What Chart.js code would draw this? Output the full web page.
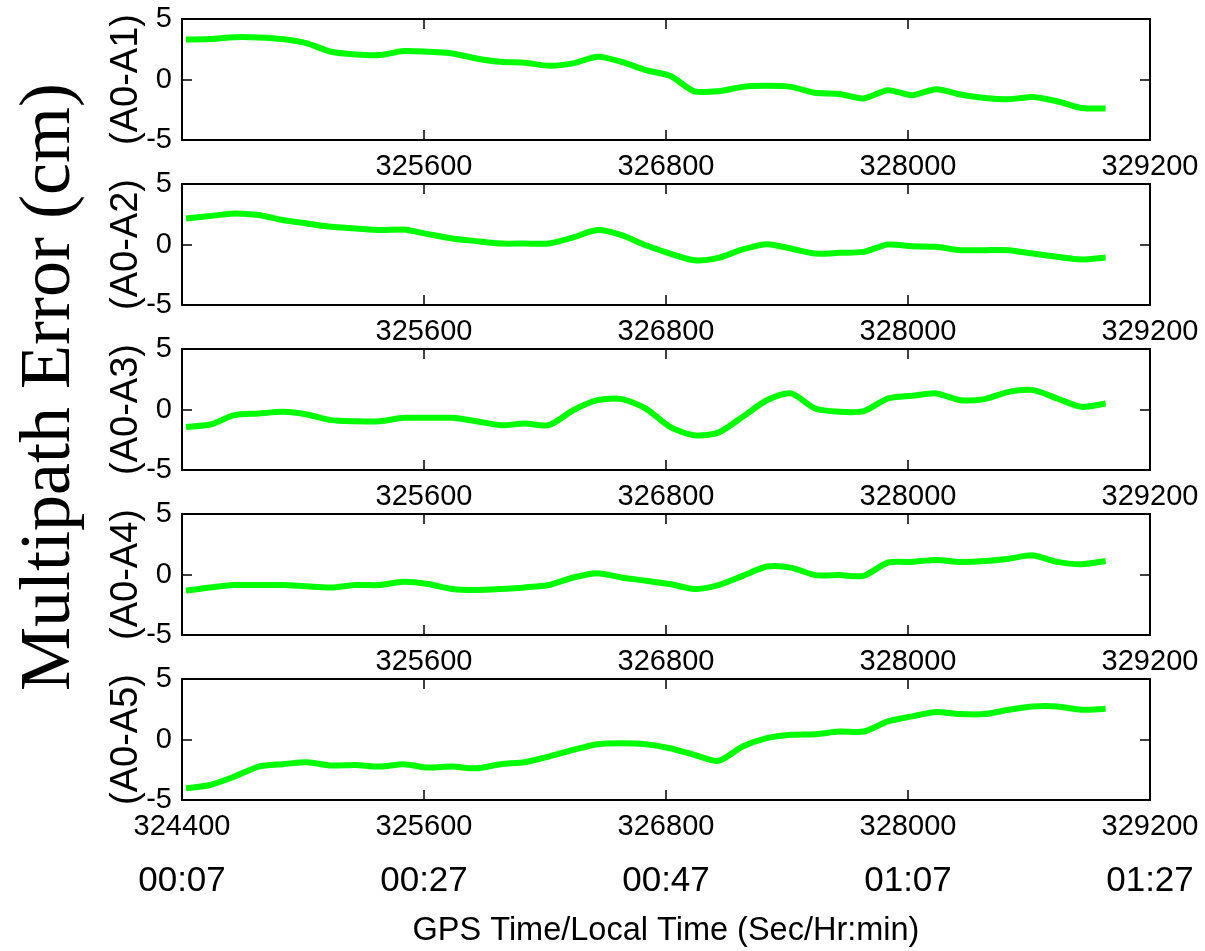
<!DOCTYPE html>
<html><head><meta charset="utf-8">
<script src="https://cdn.jsdelivr.net/npm/chart.js@4.4.1/dist/chart.umd.min.js"></script>
<style>
html,body{margin:0;padding:0;background:#fff;}
#wrap{position:relative;width:1205px;height:951px;overflow:hidden;background:#fff;}
canvas{position:absolute;left:0;}
#ytitle{position:absolute;left:-305px;top:351px;width:700px;height:72px;line-height:72px;text-align:center;
  font-family:'Liberation Serif','Times New Roman',serif;font-size:72px;color:#000;transform:rotate(-90deg);white-space:nowrap;}
</style></head><body>
<div id="wrap">
<div id="ytitle">Multipath Error (cm)</div>
<canvas id="c0" width="1205" height="200" style="top:0px"></canvas>
<canvas id="c1" width="1205" height="200" style="top:165px"></canvas>
<canvas id="c2" width="1205" height="200" style="top:330px"></canvas>
<canvas id="c3" width="1205" height="200" style="top:495px"></canvas>
<canvas id="c4" width="1205" height="291" style="top:660px"></canvas>
</div>
<script>
// ---- data ----
const gpsTime = [324420, 324540, 324660, 324780, 324900, 325020, 325140, 325260, 325380, 325500,
  325620, 325740, 325860, 325980, 326100, 326220, 326340, 326460, 326580, 326700,
  326820, 326940, 327060, 327180, 327300, 327420, 327540, 327660, 327780, 327900,
  328020, 328140, 328260, 328380, 328500, 328620, 328740, 328860, 328980];
const panelLabels = ['(A0-A1)', '(A0-A2)', '(A0-A3)', '(A0-A4)', '(A0-A5)'];
const a1 = [3.31, 3.34, 3.5, 3.48, 3.34, 2.98, 2.29, 2.07, 2.02, 2.35,
  2.29, 2.15, 1.74, 1.46, 1.38, 1.13, 1.33, 1.88, 1.46, 0.77,
  0.30, -0.97, -0.97, -0.61, -0.52, -0.61, -1.10, -1.19, -1.57, -0.88,
  -1.30, -0.80, -1.24, -1.52, -1.63, -1.44, -1.80, -2.35, -2.40];
const a2 = [2.15, 2.35, 2.57, 2.43, 2.02, 1.74, 1.46, 1.33, 1.19, 1.24,
  0.86, 0.50, 0.28, 0.08, 0.08, 0.08, 0.58, 1.19, 0.77, -0.06,
  -0.75, -1.30, -1.10, -0.41, 0.03, -0.33, -0.75, -0.69, -0.61, 0.0,
  -0.14, -0.19, -0.47, -0.47, -0.47, -0.75, -1.02, -1.24, -1.08];
const a3 = [-1.44, -1.24, -0.47, -0.33, -0.19, -0.41, -0.88, -0.97, -0.97, -0.69,
  -0.69, -0.69, -0.97, -1.30, -1.16, -1.30, -0.06, 0.77, 0.86, 0.08,
  -1.44, -2.13, -1.91, -0.61, 0.77, 1.33, 0.08, -0.19, -0.14, 0.91,
  1.13, 1.33, 0.77, 0.86, 1.46, 1.60, 0.91, 0.22, 0.50];
const a4 = [-1.34, -1.07, -0.87, -0.87, -0.87, -0.98, -1.07, -0.87, -0.87, -0.60,
  -0.79, -1.20, -1.28, -1.20, -1.07, -0.87, -0.25, 0.11, -0.25, -0.52,
  -0.79, -1.20, -0.87, -0.11, 0.66, 0.57, -0.05, -0.05, -0.11, 0.98,
  1.04, 1.20, 1.04, 1.12, 1.31, 1.58, 1.04, 0.85, 1.12];
const a5 = [-4.03, -3.76, -3.07, -2.24, -2.04, -1.88, -2.15, -2.10, -2.24, -2.04,
  -2.32, -2.24, -2.38, -2.04, -1.88, -1.41, -0.86, -0.39, -0.30, -0.39,
  -0.72, -1.27, -1.77, -0.58, 0.11, 0.39, 0.44, 0.66, 0.66, 1.49,
  1.91, 2.27, 2.10, 2.10, 2.46, 2.73, 2.73, 2.46, 2.54];
const seriesList = [a1, a2, a3, a4, a5];
const xMin = 324400, xMax = 329200, xStep = 1200;
const yMin = -5, yMax = 5, yStep = 5;
const localTimeLabels = ['00:07', '00:27', '00:47', '01:07', '01:27'];
const xTitle = 'GPS Time/Local Time (Sec/Hr:min)';

// ---- styles ----
const sans = "'Liberation Sans',Arial,Helvetica,sans-serif";
const lineColor = '#00ff00';

const framePlugin = {
  id: 'frame',
  afterDraw(chart) {
    const {ctx, chartArea: a, scales} = chart;
    const x = scales.x, y = scales.y;
    ctx.save();
    ctx.strokeStyle = '#000';
    ctx.lineWidth = 1.5;
    ctx.beginPath();
    x.ticks.forEach(t => {
      if (t.value <= x.min || t.value >= x.max) return;
      const p = Math.round(x.getPixelForValue(t.value));
      ctx.moveTo(p, a.top); ctx.lineTo(p, a.top + 10);
      ctx.moveTo(p, a.bottom); ctx.lineTo(p, a.bottom - 10);
    });
    y.ticks.forEach(t => {
      if (t.value <= y.min || t.value >= y.max) return;
      const p = Math.round(y.getPixelForValue(t.value));
      ctx.moveTo(a.left, p); ctx.lineTo(a.left + 10, p);
      ctx.moveTo(a.right, p); ctx.lineTo(a.right - 10, p);
    });
    ctx.stroke();
    ctx.lineWidth = 2;
    ctx.strokeRect(a.left, a.top, a.right - a.left, a.bottom - a.top);
    ctx.restore();
  }
};

function makeChart(i) {
  const last = (i === 4);
  const canvas = document.getElementById('c' + i);
  const H = canvas.height;
  const pts = gpsTime.map((t, k) => ({x: t, y: seriesList[i][k]}));
  const scales = {
    x: {
      type: 'linear', position: 'bottom', min: xMin, max: xMax,
      grid: {display: false, drawTicks: false}, border: {display: false},
      ticks: {
        stepSize: xStep, autoSkip: false, maxRotation: 0, padding: 0, color: '#000',
        font: {family: sans, size: 29, lineHeight: 1.83},
        callback: (v, idx) => (!last && idx === 0) ? '' : String(v)
      },
      afterFit: s => { s.height = last ? 50 : (H - 19 - 121); }
    },
    y: {
      type: 'linear', position: 'left', min: yMin, max: yMax,
      grid: {display: false, drawTicks: false}, border: {display: false},
      ticks: {stepSize: yStep, padding: 10, color: '#000',
        font: {family: sans, size: 29, lineHeight: 0.6}},
      title: {display: true, text: panelLabels[i], color: '#000',
        font: {family: sans, size: 38, lineHeight: 1.2}, padding: {top: 104, bottom: 0}},
      afterFit: s => { s.width = 182; }
    }
  };
  if (last) {
    scales.x2 = {
      type: 'linear', position: 'bottom', min: xMin, max: xMax,
      grid: {display: false, drawTicks: false}, border: {display: false},
      ticks: {
        stepSize: xStep, autoSkip: false, maxRotation: 0, padding: 0, color: '#000',
        font: {family: sans, size: 35, lineHeight: 1.77},
        callback: (v, idx) => localTimeLabels[idx]
      },
      title: {display: true, text: xTitle, color: '#000',
        font: {family: sans, size: 32.5, lineHeight: 1.2}, padding: {top: 0, bottom: 0}},
      afterFit: s => { s.height = H - 19 - 121 - 50; }
    };
  }
  return new Chart(canvas, {
    type: 'line',
    data: {datasets: [{data: pts, borderColor: lineColor, borderWidth: 6, pointRadius: 0,
      tension: 0.25, fill: false}]},
    options: {
      responsive: false, animation: false, devicePixelRatio: 1,
      layout: {padding: {top: 19, left: 0, right: 55, bottom: 0}},
      plugins: {legend: {display: false}, tooltip: {enabled: false}},
      scales
    },
    plugins: [framePlugin]
  });
}
for (let i = 0; i < 5; i++) makeChart(i);
</script>
</body></html>
